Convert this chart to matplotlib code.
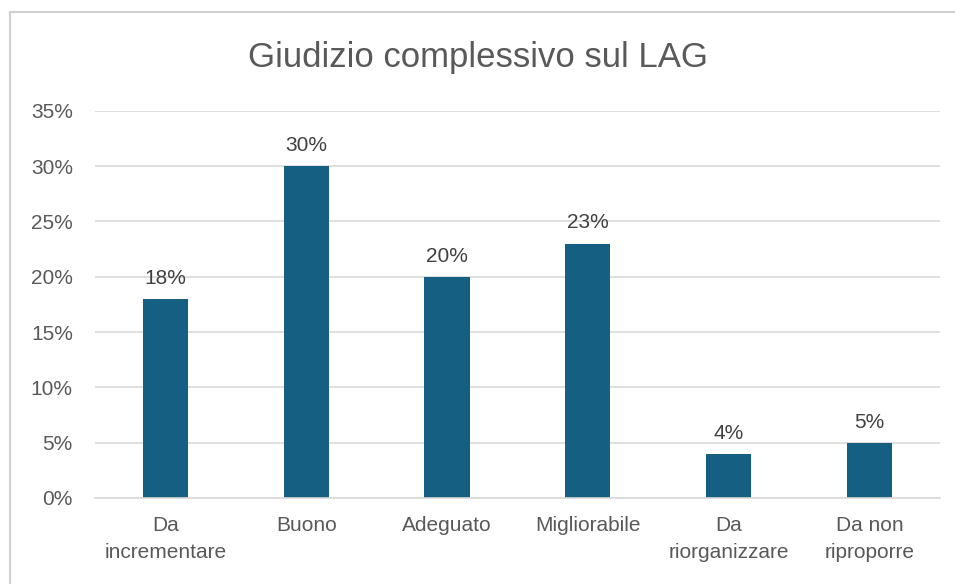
import matplotlib.pyplot as plt
from matplotlib.patches import Rectangle
from matplotlib.ticker import FuncFormatter

categories = ["Da\nincrementare", "Buono", "Adeguato", "Migliorabile", "Da\nriorganizzare", "Da non\nriproporre"]
values = [18, 30, 20, 23, 4, 5]

plt.rcParams["font.family"] = ["Liberation Sans", "DejaVu Sans"]

fig = plt.figure(figsize=(9.55, 5.84), dpi=100)
ax = fig.add_axes([0.0995, 0.1473, 0.8845, 0.663])

# chart border like the office frame
fig.patches.append(Rectangle((10 / 955, -0.1), 1.1, 1 - 12 / 584 + 0.1, transform=fig.transFigure,
                             fill=False, edgecolor="#d0d0d0", linewidth=1.5))

x = range(len(categories))
bars = ax.bar(x, values, width=0.32, color="#156082")
for b, v in zip(bars, values):
    ax.text(b.get_x() + b.get_width() / 2, v + 1.0, f"{v}%", ha="center", va="bottom",
            fontsize=15, color="#404040")

ax.set_xlim(-0.5, len(categories) - 0.5)
ax.set_ylim(0, 35)
ax.set_yticks(range(0, 36, 5))
ax.yaxis.set_major_formatter(FuncFormatter(lambda v, p: f"{v:.0f}%"))
ax.set_xticks(list(x))
ax.set_xticklabels(categories, linespacing=1.55)
ax.tick_params(axis="both", length=0, labelsize=15, colors="#595959")
ax.tick_params(axis="y", pad=16)
ax.tick_params(axis="x", pad=13)
ax.grid(axis="y", color="#d9d9d9", linewidth=1.2)
ax.set_axisbelow(True)
for s in ["top", "right", "left"]:
    ax.spines[s].set_visible(False)
ax.spines["bottom"].set_color("#d9d9d9")
ax.spines["bottom"].set_linewidth(1.2)

fig.text(0.5, 1 - 57 / 584, "Giudizio complessivo sul LAG", ha="center", va="center",
         fontsize=25, color="#595959")

plt.savefig("out.png", dpi=100)
